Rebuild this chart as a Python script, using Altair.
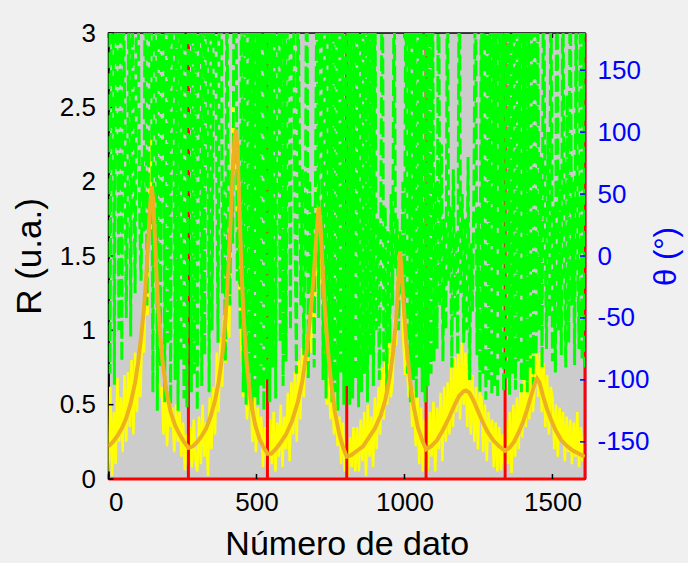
import altair as alt
import pandas as pd

# ---------------- data ----------------
yellow_step = 6
green_step = 5

# R (u.a.) noisy measured data, every 6 samples
yellow_R = [
    0.05, 0.62, 0.02, 0.45, 0.10, 0.68, 0.25, 0.55, 0.18, 0.70,
    0.25, 0.72, 0.35, 0.80, 0.30, 0.85, 0.45, 0.78, 0.55, 1.05,
    0.85, 1.35, 1.10, 1.90, 2.29, 1.50, 1.70, 1.20, 0.75, 0.55,
    0.62, 0.30, 0.58, 0.22, 0.55, 0.35, 0.48, 0.18, 0.50, 0.25,
    0.45, 0.15, 0.38, 0.06, 0.30, 0.03, 0.35, 0.08, 0.40, 0.12,
    0.05, 0.42, 0.10, 0.50, 0.15, 0.38, 0.02, 0.55, 0.20, 0.62,
    0.30, 0.85, 0.45, 0.95, 0.62, 1.10, 0.78, 1.30, 0.95, 1.75,
    2.60, 2.10, 2.05, 1.65, 1.20, 0.85, 0.55, 0.72, 0.40, 0.58,
    0.62, 0.25, 0.55, 0.18, 0.48, 0.30, 0.42, 0.08, 0.35, 0.12,
    0.02, 0.40, 0.10, 0.45, 0.05, 0.38, 0.15, 0.50, 0.08, 0.42,
    0.20, 0.58, 0.12, 0.65, 0.30, 0.72, 0.25, 0.80, 0.40, 0.88,
    0.55, 0.95, 0.70, 1.05, 0.85, 1.25, 1.05, 1.60, 2.08, 1.70,
    1.35, 1.00, 0.75, 0.50, 0.68, 0.40, 0.58, 0.30, 0.50, 0.22,
    0.42, 0.10, 0.38, 0.05, 0.30, 0.02, 0.28, 0.08, 0.35, 0.05,
    0.35, 0.05, 0.40, 0.12, 0.45, 0.02, 0.50, 0.15, 0.42, 0.08,
    0.55, 0.20, 0.62, 0.30, 0.75, 0.40, 0.85, 0.50, 1.00, 0.55,
    0.65, 1.08, 0.90, 1.40, 1.67, 1.30, 0.95, 0.70, 0.80, 0.55,
    0.72, 0.35, 0.60, 0.22, 0.55, 0.10, 0.48, 0.05, 0.40, 0.03,
    0.08, 0.45, 0.15, 0.52, 0.05, 0.48, 0.20, 0.58, 0.12, 0.62,
    0.25, 0.65, 0.30, 0.75, 0.35, 0.82, 0.45, 0.88, 0.40, 0.92,
    0.50, 0.85, 0.35, 0.78, 0.30, 0.70, 0.25, 0.62, 0.20, 0.58,
    0.55, 0.18, 0.50, 0.12, 0.45, 0.25, 0.40, 0.08, 0.38, 0.05,
    0.35, 0.06, 0.30, 0.02, 0.40, 0.10, 0.45, 0.04, 0.50, 0.15,
    0.55, 0.20, 0.62, 0.28, 0.70, 0.35, 0.78, 0.40, 0.85, 0.45,
    0.60, 0.90, 0.55, 0.85, 0.45, 0.78, 0.35, 0.70, 0.30, 0.62,
    0.55, 0.20, 0.50, 0.15, 0.48, 0.25, 0.45, 0.12, 0.42, 0.18,
    0.40, 0.10, 0.38, 0.15, 0.45, 0.08, 0.35, 0.12, 0.30,
]

# theta (deg) noisy phase, every 5 samples (values above 180 leave the plot)
green_theta = [
    300, -95, 220, 260, -104, 330, 200, -60, 280, -85,
    240, 110, -50, 60, 290, -65, 210, 90, -30, 260,
    230, 40, -20, 80, 20, 310, -40, 70, 250, 200,
    -110, 280, 220, -125, 310, -90, 240, 200, -118, 270,
    -70, 230, -120, 300, 250, -100, 210, -125, 290, -85,
    320, -115, 240, -122, 200, 270, -110, 230, -95, 300,
    -125, 210, 260, -105, 330, -80, 220, 280, -110, 240,
    -60, 200, 300, 90, -70, 250, 310, -30, 60, -85,
    230, 30, -40, 70, 10, 260, 290, -20, 50, -60,
    280, -110, 220, -120, 310, -95, 240, -125, 200, -115,
    270, -120, 230, -105, 300, -125, 210, -100, 290, -118,
    240, -90, 320, -115, 250, 200, -70, 280, -105, 230,
    -85, 260, 110, -60, 300, 220, 30, -95, 240, 90,
    -40, 70, -80, 20, 290, -100, 60, -30, 40, -90,
    80, 250, -50, 310, 200, -100, 270, -115, 220, -90,
    290, -118, 240, -110, 320, -125, 210, -95, 260, -120,
    230, -105, 300, -120, 250, -115, 200, -100, 280, -122,
    240, -110, 310, -95, 220, -118, 270, -80, 300, -105,
    250, -60, 30, -100, 10, 290, -85, 40, -110, 20,
    -70, 50, -40, 260, -10, 30, -60, 20, -30, 60,
    -50, 280, -95, 230, -118, 310, -100, 200, -115, 260,
    -90, 240, -110, 300, -118, 220, -105, 270, -95, 240,
    -85, 60, -75, 290, -40, 90, -85, 30, -60, 250,
    -20, 40, -90, 70, -50, 20, -80, 280, -30, 50,
    -70, 30, -60, 80, -100, 10, -45, 60, 260, -80,
    40, -110, 250, -95, 300, -116, 230, -100, 280, -112,
    250, -105, 210, -115, 320, -90, 240, -110, 260, -100,
    240, -112, 290, -95, 230, -108, 310, -85, 200, -110,
    250, -100, 270, -110, 230, -90, 300, -105, 260, -80,
    240, -60, 80, -90, 290, 20, -75, 100, -50, 250,
    -85, 40, -94, 300, -60, 70, -80, 240, 10, -90,
    130, -70, 270, -40, 60, -88, 230, 0, -75, 280,
    -84, 240, -90,
]

# smooth fitted curve (orange)
orange_x = [
    0, 15, 30, 45, 60, 75, 90, 100, 110, 120, 128, 135, 141, 146, 151, 157, 164, 172, 182, 195, 210, 225, 240, 255, 270,
    285, 300, 315, 330, 345, 360, 372, 385, 395, 405, 413, 420, 426, 431, 436, 442, 449, 457, 467, 480, 495, 510, 525, 537,
    550, 565, 580, 600, 620, 640, 655, 670, 683, 693, 702, 707, 711, 716, 722, 730, 740, 752, 765, 780, 793, 805,
    820, 840, 860, 880, 900, 920, 935, 950, 962, 972, 980, 985, 990, 997, 1006, 1018, 1030, 1045, 1060, 1073,
    1090, 1110, 1130, 1150, 1170, 1185, 1200, 1208, 1220, 1235, 1250, 1265, 1280, 1300, 1320, 1340,
    1355, 1370, 1385, 1400, 1415, 1428, 1440, 1448, 1456, 1468, 1480, 1495, 1510, 1530, 1550, 1570, 1590, 1609,
]
orange_R = [
    0.22, 0.25, 0.29, 0.34, 0.41, 0.51, 0.65, 0.78, 0.95, 1.15, 1.38, 1.62, 1.85, 1.97, 1.88, 1.62, 1.30, 1.04, 0.80, 0.60, 0.45, 0.36, 0.30, 0.25, 0.21,
    0.22, 0.25, 0.29, 0.34, 0.42, 0.53, 0.65, 0.84, 1.07, 1.40, 1.75, 2.08, 2.30, 2.35, 2.22, 1.85, 1.42, 1.07, 0.78, 0.53, 0.37, 0.27, 0.21, 0.17,
    0.17, 0.20, 0.24, 0.30, 0.39, 0.52, 0.66, 0.87, 1.12, 1.36, 1.62, 1.76, 1.83, 1.72, 1.48, 1.18, 0.90, 0.65, 0.45, 0.30, 0.21, 0.15,
    0.16, 0.19, 0.22, 0.28, 0.34, 0.43, 0.53, 0.68, 0.86, 1.08, 1.35, 1.53, 1.42, 1.18, 0.92, 0.68, 0.50, 0.35, 0.26, 0.20,
    0.22, 0.26, 0.33, 0.41, 0.50, 0.56, 0.59, 0.595, 0.58, 0.52, 0.45, 0.38, 0.32, 0.26, 0.22, 0.19,
    0.21, 0.25, 0.31, 0.38, 0.47, 0.56, 0.64, 0.675, 0.65, 0.56, 0.48, 0.40, 0.33, 0.26, 0.22, 0.19, 0.17, 0.15,
]

red_x = [270, 537, 805, 1073, 1340, 1610]
x_ticks = [0, 500, 1000, 1500]
r_ticks = [0, 0.5, 1, 1.5, 2, 2.5, 3]
theta_ticks = [-150, -100, -50, 0, 50, 100, 150]

# ---------------- tables ----------------
yellow_df = pd.DataFrame({"x": [i * yellow_step for i in range(len(yellow_R))], "R": yellow_R})
green_df = pd.DataFrame({"x": [i * green_step for i in range(len(green_theta))], "theta": green_theta})
orange_df = pd.DataFrame({"x": orange_x, "R": orange_R})
red_df = pd.DataFrame({"x": red_x})
red_bottom_df = pd.DataFrame({"R": [0]})
xt_df = pd.DataFrame({"x": x_ticks})
rt_df = pd.DataFrame({"R": r_ticks})
tt_df = pd.DataFrame({"theta": theta_ticks})

W, H = 476.5, 446
FONT = "Liberation Sans"
BLUE = "#0000ff"

x_enc = alt.X(
    "x:Q",
    scale=alt.Scale(domain=[0, 1610], nice=False, zero=False),
    axis=alt.Axis(
        values=x_ticks, title="Número de dato", labelExpr="'' + datum.value",
        labelFontSize=26, titleFontSize=34, labelPadding=10, titlePadding=12,
        domain=False, ticks=False, grid=False, labelColor="black", titleColor="black",
        titleFontWeight="normal",
    ),
)
r_scale = alt.Scale(domain=[0, 3], nice=False, zero=False)
r_axis = alt.Axis(
    orient="left", values=r_ticks, title="R (u.a.)", labelExpr="'' + datum.value",
    labelFontSize=26, titleFontSize=35, labelPadding=13, titlePadding=12,
    domain=True, domainColor="black", domainWidth=1.5, ticks=False, grid=False,
    labelColor="black", titleColor="black", titleFontWeight="normal",
)
y_r = alt.Y("R:Q", scale=r_scale, axis=r_axis)
t_scale = alt.Scale(domain=[-180, 180], nice=False, zero=False)
t_axis = alt.Axis(
    orient="right", values=theta_ticks, title="θ (°)", labelExpr="'' + datum.value",
    labelFontSize=26, titleFontSize=31, labelPadding=12, titlePadding=33, titleAngle=270,
    domain=True, domainColor=BLUE, domainWidth=1.5, ticks=False, grid=False,
    labelColor=BLUE, titleColor=BLUE, titleFontWeight="normal",
)
y_t = alt.Y("theta:Q", scale=t_scale, axis=t_axis)

yellow = alt.Chart(yellow_df).mark_line(color="#ffff00", strokeWidth=2.5, clip=True, strokeJoin="bevel").encode(x=x_enc, y=y_r)
red_v = alt.Chart(red_df).mark_rule(color="#ff0000", strokeWidth=3).encode(x=x_enc)
red_h = alt.Chart(red_bottom_df).mark_rule(color="#ff0000", strokeWidth=3).encode(
    y=y_r, x=alt.value(0), x2=alt.value(W))
left_ticks = alt.Chart(rt_df).mark_rule(color="black", strokeWidth=1.5).encode(
    y=y_r, x=alt.value(0), x2=alt.value(5))
bottom_ticks = alt.Chart(xt_df).mark_rule(color="black", strokeWidth=1.5).encode(
    x=x_enc, y=alt.value(H), y2=alt.value(H - 5))
top_ticks = alt.Chart(xt_df).mark_rule(color="black", strokeWidth=1.5).encode(
    x=x_enc, y=alt.value(0), y2=alt.value(5))
left = alt.layer(yellow, red_v, red_h, left_ticks, bottom_ticks, top_ticks)

green = alt.Chart(green_df).mark_line(
    color="#00ff00", strokeWidth=3, strokeDash=[16, 5], clip=True, strokeJoin="bevel"
).encode(x=x_enc, y=y_t)
right_ticks = alt.Chart(tt_df).mark_rule(color=BLUE, strokeWidth=1.5).encode(
    y=y_t, x=alt.value(W - 5), x2=alt.value(W))
right = alt.layer(green, right_ticks)

orange = alt.Chart(orange_df).mark_line(color="#EDB120", strokeWidth=4, clip=True).encode(
    x=x_enc, y=alt.Y("R:Q", scale=r_scale, axis=None))

chart = alt.layer(left, right, orange).resolve_scale(y="independent").properties(
    width=W, height=H,
    autosize=alt.AutoSizeParams(type="none"),
    padding={"left": 108.5, "top": 33, "right": 103, "bottom": 84},
).configure(background="#f0f0f0", font=FONT).configure_view(
    fill="#cccccc", stroke="black", strokeWidth=1.5
)

chart.save("out.html", embed_options={"renderer": "svg", "actions": False})
